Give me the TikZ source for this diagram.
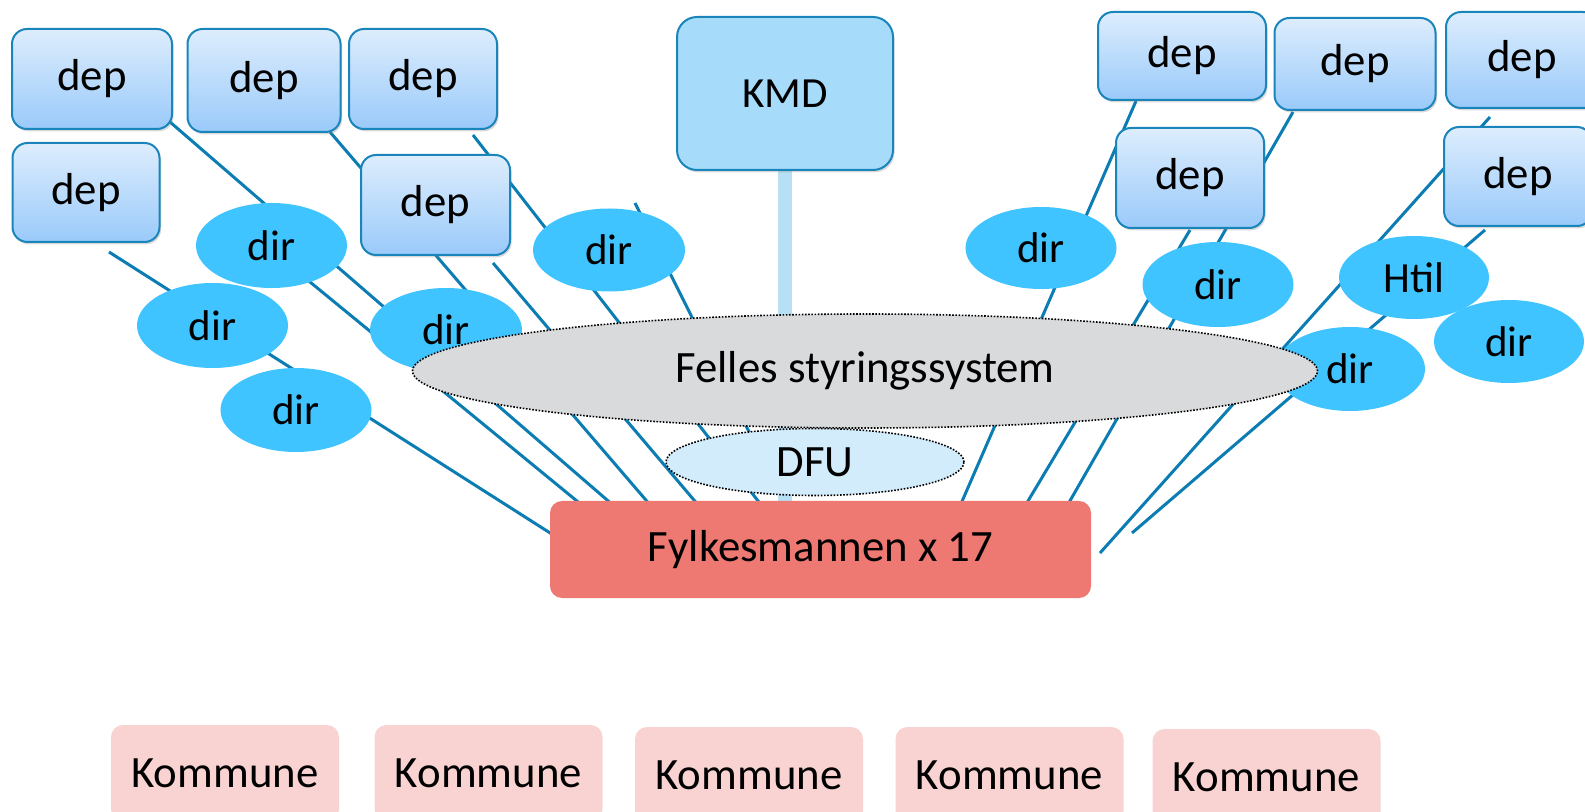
\documentclass[tikz,border=0pt]{standalone}
\usepackage{fontspec}
\setmainfont{Carlito}
\usetikzlibrary{shapes.geometric,shadows}
\pgfdeclarelayer{background}
\pgfsetlayers{background,main}
\definecolor{depTop}{HTML}{DDEDFD}
\definecolor{depBot}{HTML}{9ACAFA}
\definecolor{boxBorder}{HTML}{1A85BB}
\definecolor{kmdFill}{HTML}{A6DCFA}
\definecolor{dirFill}{HTML}{3FC4FF}
\definecolor{lineC}{HTML}{0B7DB3}
\definecolor{kmdLine}{HTML}{B8E0F5}
\definecolor{fellesFill}{HTML}{D9DADC}
\definecolor{dfuFill}{HTML}{D2ECFC}
\definecolor{fylkeFill}{HTML}{EE7973}
\definecolor{kommuneFill}{HTML}{F8D3D1}
\newcommand\lowered[1]{\raisebox{-1.9pt}{#1}}
\tikzset{
  txt/.style={font=\fontsize{22.4}{27}\selectfont, text=black, inner sep=0pt},
  smalltxt/.style={font=\fontsize{21.5}{26}\selectfont},
  depbox/.style={txt, rectangle, rounded corners=7.5pt, draw=boxBorder, line width=1pt,
    top color=depTop, bottom color=depBot,
    drop shadow={shadow xshift=0.8pt, shadow yshift=-1.2pt, opacity=0.3}},
  kmdbox/.style={txt, smalltxt, rectangle, rounded corners=10pt, draw=boxBorder, line width=1pt,
    fill=kmdFill, drop shadow={shadow xshift=0.8pt, shadow yshift=-1.2pt, opacity=0.3}},
  direll/.style={txt, smalltxt, ellipse, fill=dirFill},
  dotell/.style={txt, ellipse, draw=black, line width=0.8pt, dash pattern=on 0.8pt off 0.8pt},
  fylkebox/.style={txt, rectangle, rounded corners=6pt, fill=fylkeFill},
  kommunebox/.style={txt, rectangle, rounded corners=6pt, fill=kommuneFill,
    minimum width=114pt, minimum height=48pt},
  conn/.style={draw=lineC, line width=1.5pt},
  kmdconn/.style={draw=kmdLine, line width=7pt}
}
\begin{document}
\begin{tikzpicture}[x=0.5pt,y=-0.5pt]
\useasboundingbox (0,0) rectangle (1585,812);
\clip (0,0) rectangle (1585,812);

% free ends of connectors
\coordinate (s1) at (109,252);  \coordinate (e1) at (558,538);
\coordinate (s2) at (271,250);  \coordinate (e2) at (583,506);
\coordinate (s3) at (170,122);  \coordinate (e3) at (614,506);
\coordinate (s4) at (330,132);  \coordinate (e4) at (651,506);
\coordinate (s5) at (493,263);  \coordinate (e5) at (699,506);
\coordinate (s6) at (473,135);  \coordinate (e6) at (762,506);
\coordinate (s7) at (635,203);  \coordinate (e7) at (786,506);
\coordinate (s8) at (1136,101); \coordinate (e8) at (960,506);
\coordinate (s9) at (1190,230); \coordinate (e9) at (1025,506);
\coordinate (s10) at (1293,112); \coordinate (e10) at (1067,506);
\coordinate (s11) at (1490,117); \coordinate (e11) at (1100,553);
\coordinate (s12) at (1485,230); \coordinate (e12) at (1132,533);

% departments
\node[depbox, minimum width=80pt, minimum height=50pt] (dep1) at (92,79) {\lowered{dep}};
\node[depbox, minimum width=76.5pt, minimum height=51.5pt] (dep2) at (264,80.5) {\lowered{dep}};
\node[depbox, minimum width=74pt, minimum height=50pt] (dep3) at (423,79) {\lowered{dep}};
\node[depbox, minimum width=73.5pt, minimum height=49.5pt] (dep4) at (86,192.5) {\lowered{dep}};
\node[depbox, minimum width=74.5pt, minimum height=50pt] (dep5) at (435.5,205) {\lowered{dep}};
\node[depbox, minimum width=84pt, minimum height=44pt] (dep6) at (1182,56) {\lowered{dep}};
\node[depbox, minimum width=80.5pt, minimum height=46pt] (dep7) at (1355,64) {\lowered{dep}};
\node[depbox, minimum width=76pt, minimum height=48pt] (dep8) at (1522,60) {\lowered{dep}};
\node[depbox, minimum width=74pt, minimum height=50pt] (dep9) at (1190,178) {\lowered{dep}};
\node[depbox, minimum width=74pt, minimum height=49.5pt] (dep10) at (1518,176.5) {\lowered{dep}};

% directorates
\node[direll, minimum width=75.5pt, minimum height=42.5pt] (dira) at (271.5,245.5) {dir};
\node[direll, minimum width=75.5pt, minimum height=42.5pt] (dirb) at (212.5,325.5) {dir};
\node[direll, minimum width=75.5pt, minimum height=42pt] (dirc) at (296,410) {dir};
\node[direll, minimum width=76pt, minimum height=42pt] (dird) at (446,330) {dir};
\node[direll, minimum width=76pt, minimum height=41.5pt] (dire) at (609,250) {dir};
\node[direll, minimum width=75.5pt, minimum height=41pt] (dirf) at (1041,248) {dir};
\node[direll, minimum width=75.5pt, minimum height=42.5pt] (dirg) at (1218,284.5) {dir};
\node[direll, minimum width=75pt, minimum height=41.5pt] (htil) at (1414,277.5) {Htil};
\node[direll, minimum width=75pt, minimum height=42pt] (dirh) at (1350,369) {dir};
\node[direll, minimum width=75pt, minimum height=41.5pt] (diri) at (1509,341.5) {dir};

% central
\node[kmdbox, minimum width=108pt, minimum height=76.5pt] (kmd) at (785,93.5) {KMD};
\node[dotell, fill=fellesFill, minimum width=452.5pt, minimum height=57pt] (felles) at (865,371) {\lowered{Felles styringssystem}};
\node[dotell, fill=dfuFill, minimum width=149pt, minimum height=33.5pt] (dfu) at (815,462) {DFU};
\node[fylkebox, minimum width=270.5pt, minimum height=48.5pt] (fylke) at (820.5,549.5) {\lowered{Fylkesmannen x 17}};

% municipalities
\node[kommunebox] (k1) at (225,773) {Kommune};
\node[kommunebox] (k2) at (488.5,773) {Kommune};
\node[kommunebox] (k3) at (749,775) {Kommune};
\node[kommunebox] (k4) at (1009.5,775) {Kommune};
\node[kommunebox] (k5) at (1266.5,777) {Kommune};

\begin{pgfonlayer}{background}
  \foreach \i in {1,...,12} { \draw[conn] (s\i) -- (e\i); }
  \draw[kmdconn] (kmd.south) -- (kmd.south |- fylke.north);
\end{pgfonlayer}
\end{tikzpicture}
\end{document}
